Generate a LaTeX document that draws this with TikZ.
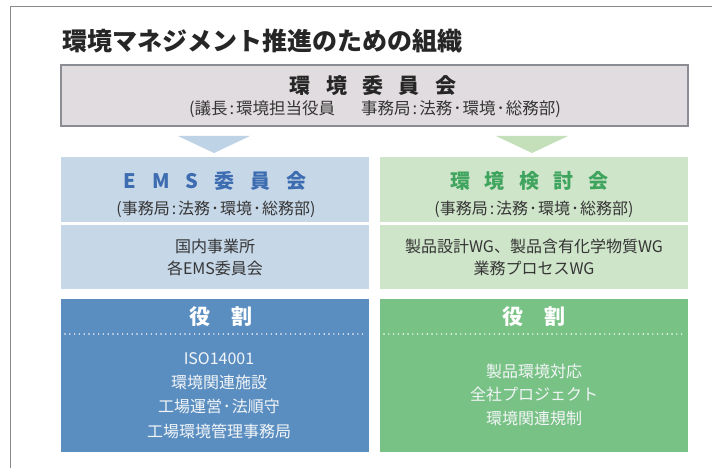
\documentclass[tikz,border=0pt]{standalone}
\usepackage{fontspec}
\setmainfont{Noto Sans CJK JP}
\definecolor{framegray}{HTML}{8A8A8A}
\definecolor{topfill}{HTML}{E1DCDF}
\definecolor{topborder}{HTML}{8C8C94}
\definecolor{lblue}{HTML}{C6D7E8}
\definecolor{tblue}{HTML}{BED3E6}
\definecolor{lgreen}{HTML}{CFE5CA}
\definecolor{tgreen}{HTML}{C3E0BB}
\definecolor{dblue}{HTML}{5B8EC0}
\definecolor{dgreen}{HTML}{79C285}
\definecolor{emsblue}{HTML}{3D6CB0}
\definecolor{kgreen}{HTML}{3EA45E}
\definecolor{txt}{HTML}{353535}
\definecolor{rtxt}{HTML}{F2F5F8}
\newcommand{\nd}{\kern1pt･\kern1pt}
\newcommand{\cln}{\kern2pt:\kern2pt}
\begin{document}
\begin{tikzpicture}[x=1pt,y=-1pt,
  every node/.style={inner sep=0pt, outer sep=0pt},
  panel/.style={minimum width=308pt, anchor=north west},
  head/.style={font=\fontsize{20}{24}\selectfont\bfseries},
  sub/.style={font=\fontsize{16}{18}\selectfont, text=txt},
  body/.style={font=\fontsize{16}{22}\selectfont, text=txt, align=center},
  role/.style={font=\fontsize{16}{24.3}\selectfont, text=rtxt, align=center},
  roletitle/.style={font=\fontsize{21}{24}\selectfont\bfseries, text=white},
  dots/.style={white, line width=1.6pt, line cap=round, dash pattern=on 0pt off 4.8pt}
]
\useasboundingbox (0,0) rectangle (712,468);
\fill[white] (0,0) rectangle (712,468);
% outer frame
\draw[framegray, line width=1.6pt] (10.5,468) -- (10.5,6.5) -- (712,6.5);
% title
\node[anchor=west, font=\fontsize{25}{28}\selectfont\bfseries, text=black!85] (title) at (62,41) {環境マネジメント推進のための組織};
% top committee
\node[draw=topborder, fill=topfill, line width=1.3pt, minimum width=627pt, minimum height=61pt] (top) at (374.5,95.5) {};
\node[head, font=\fontsize{21}{24}\selectfont\bfseries, text=black!85] (toph) at (373,86) {環\hspace{15.5pt}境\hspace{15.5pt}委\hspace{15.5pt}員\hspace{15.5pt}会};
\node[sub, font=\fontsize{16.5}{18}\selectfont] (tops) at (375,109.5) {(議長\cln 環境担当役員\hspace{26pt}事務局\cln 法務\nd 環境\nd 総務部)};
% arrows
\fill[tblue] (178,136) -- (250,136) -- (214,153) -- cycle;
\fill[tgreen] (496,136) -- (568,136) -- (532,153) -- cycle;
% EMS committee
\node[panel, fill=lblue, minimum height=65pt] (ems1) at (61,157) {};
\node[head, text=emsblue] (emsh) at (215,181) {E\hspace{16pt}M\hspace{16pt}S\hspace{16pt}委\hspace{16pt}員\hspace{16pt}会};
\node[sub] (emss) at (216,209) {(事務局\cln 法務\nd 環境\nd 総務部)};
\node[panel, fill=lblue, minimum height=64pt] (ems2) at (61,225) {};
\node[body] (emsb) at (ems2.center) {国内事業所\\各EMS委員会};
% environment review committee
\node[panel, fill=lgreen, minimum height=65pt] (ken1) at (380,157) {};
\node[head, text=kgreen] (kenh) at (529,181) {環\hspace{14.5pt}境\hspace{14.5pt}検\hspace{14.5pt}討\hspace{14.5pt}会};
\node[sub] (kens) at (534,209) {(事務局\cln 法務\nd 環境\nd 総務部)};
\node[panel, fill=lgreen, minimum height=64pt] (ken2) at (380,225) {};
\node[body] (kenb) at (ken2.center) {製品設計WG、製品含有化学物質WG\\業務プロセスWG};
% roles
\node[panel, fill=dblue, minimum height=153pt] (role1) at (61,299) {};
\node[roletitle] (r1t) at (220.5,317) {役\hspace{21pt}割};
\draw[dots] (65,334) -- (367,334);
\node[role] (r1b) at (219,395.5) {ISO14001\\環境関連施設\\工場運営\nd 法順守\\工場環境管理事務局};
\node[panel, fill=dgreen, minimum height=153pt] (role2) at (380,299) {};
\node[roletitle] (r2t) at (534,317) {役\hspace{21pt}割};
\draw[dots] (384,334) -- (686,334);
\node[role, font=\fontsize{16}{23.5}\selectfont] (r2b) at (534,394.5) {製品環境対応\\全社プロジェクト\\環境関連規制};
\end{tikzpicture}
\end{document}
